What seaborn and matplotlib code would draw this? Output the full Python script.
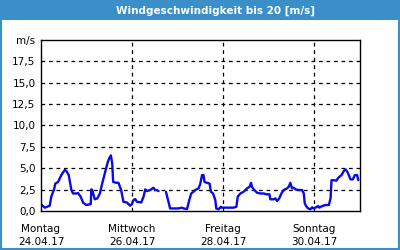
import numpy as np
import pandas as pd
import matplotlib.pyplot as plt
import seaborn as sns
from matplotlib.patches import Rectangle

# hours since Montag 24.04.17 00:00, wind speed in m/s
hours_a = [0, 2.0, 4.6, 5.4, 6.9, 7.5, 9.0, 10.7, 12.5, 13.3, 14.6, 16.0, 16.9, 18.6,
           19.5, 20.9, 22.2, 23.9, 25.7, 26.2, 26.5, 27.0, 28.3, 29.7, 31.0, 32.2, 33.6,
           35.0, 35.9, 36.8, 37.5, 38.0, 39.7, 40.8, 42.2, 43.4, 45.2, 46.9, 47.8, 48.7,
           49.6, 50.5, 52.8, 54.0, 54.9, 55.8, 57.5, 59.2, 60.1, 61.0, 61.9]
speed_a = [0.78, 0.39, 0.62, 1.67, 2.53, 3.2, 3.4, 4.2, 4.8, 4.7, 4.2, 2.45, 2.05, 2.05,
           2.1, 1.67, 0.97, 0.7, 0.78, 0.8, 2.53, 2.45, 1.37, 1.48, 2.05, 3.2, 4.4,
           5.6, 6.15, 6.5, 5.6, 3.4, 3.3, 3.3, 2.45, 1.08, 1.0, 0.62, 0.78, 1.28,
           1.4, 1.08, 1.0, 1.67, 2.53, 2.33, 2.45, 2.72, 2.45, 2.45, 2.33]
hours_b = [65.8, 66.9, 68.0, 72.4, 74.2, 75.1, 76.9, 78.1, 79.1, 80.3, 81.2, 83.0, 83.9,
           84.8, 85.6, 86.1, 87.4, 88.8, 89.5, 90.6, 91.8, 92.3, 93.5, 94.8, 95.3, 101.4,
           102.9, 103.6, 105.0, 106.7, 108.5, 109.9, 110.6, 111.1, 112.0, 113.8, 115.5,
           117.3, 118.7, 120.3, 120.8, 122.6, 123.4, 124.3, 125.5, 126.6, 127.8, 129.6,
           130.5, 131.3, 132.2, 133.1, 134.0, 135.7, 137.5, 138.4, 138.9, 139.6, 140.7,
           141.9, 142.8, 143.6, 144.5, 146.0, 146.6, 148.1, 149.8, 151.6, 152.5, 153.0,
           154.2, 155.5, 156.8, 158.3, 159.5, 160.4, 161.3, 162.1, 163.0, 164.2, 165.3,
           166.5, 167.1]
speed_b = [2.25, 1.28, 0.3, 0.3, 0.39, 0.3, 0.23, 1.28, 2.05, 2.25, 2.45, 2.65, 3.2,
           4.2, 4.2, 3.4, 3.3, 3.2, 2.25, 2.05, 1.28, 0.3, 0.2, 0.5, 0.39, 0.39,
           0.5, 1.67, 2.05, 2.25, 2.65, 2.84, 3.3, 2.84, 2.53, 2.14, 2.05,
           2.05, 1.95, 1.95, 1.37, 1.37, 1.48, 1.17, 1.48, 2.05, 2.45, 2.65,
           2.84, 3.3, 2.65, 2.72, 2.53, 2.45, 2.45, 2.05, 0.9, 0.58, 0.3,
           0.2, 0.43, 0.3, 0.39, 0.58, 0.39, 0.58, 0.7, 0.7, 1.48, 3.6,
           3.6, 3.55, 3.93, 4.2, 4.7, 4.86, 4.6, 4.2, 3.7, 3.7, 4.2,
           4.2, 3.6]

day_ticks = [0, 48, 96, 144]
day_labels = ['Montag\n24.04.17', 'Mittwoch\n26.04.17', 'Freitag\n28.04.17', 'Sonntag\n30.04.17']
y_ticks = [0, 2.5, 5, 7.5, 10, 12.5, 15, 17.5, 20]
y_labels = ['0,0', '2,5', '5,0', '7,5', '10,0', '12,5', '15,0', '17,5', 'm/s']

df = pd.concat([
    pd.DataFrame({'h': hours_a, 'v': speed_a, 'seg': 0}),
    pd.DataFrame({'h': hours_b, 'v': speed_b, 'seg': 1}),
])

sns.set_style('white')
plt.rcParams['font.family'] = ['DejaVu Sans']
blue = '#3a8fc8'

fig = plt.figure(figsize=(4, 2.5), dpi=100)
ax = fig.add_axes([41/400, 1 - 211/250, 319/400, 171/250])

sns.lineplot(data=df, x='h', y='v', units='seg', estimator=None, color='#0a0ae6',
             lw=1.7, ax=ax, legend=False)

ax.set_xlim(0, 168)
ax.set_ylim(0, 20)
ax.set_xticks(day_ticks)
ax.set_xticklabels(day_labels, fontsize=7.5, linespacing=1.45, color='black')
ax.set_xticks([24, 72, 120, 168], minor=True)
ax.set_yticks(y_ticks)
ax.set_yticklabels(y_labels, fontsize=7.5, color='black')
ax.tick_params(axis='x', which='both', direction='out', length=4, width=1, color='black', pad=5)
ax.tick_params(axis='y', length=0, pad=4)
ax.set_xlabel('')
ax.set_ylabel('')

for v in y_ticks[1:-1]:
    ax.axhline(v, color='black', lw=0.9, ls=(0, (3, 3)), zorder=0)
for d in day_ticks[1:]:
    ax.axvline(d, color='black', lw=0.9, ls=(0, (3, 3)), zorder=0)

for s in ax.spines.values():
    s.set_color('black')
    s.set_linewidth(1)

# title bar and frame
fig.patches.append(Rectangle((0, 1 - 20/250), 1, 20/250, transform=fig.transFigure,
                             facecolor=blue, edgecolor='none', zorder=0))
fig.patches.append(Rectangle((0.5/400, 1.5/250), 398.5/400, 247/250, transform=fig.transFigure,
                             facecolor='none', edgecolor=blue, lw=1.5, zorder=1))
fig.text(215/400, 1 - 10.5/250, 'Windgeschwindigkeit bis 20 [m/s]', color='white',
         fontsize=7.5, fontweight='bold', ha='center', va='center')

fig.savefig('out.png', dpi=100)
